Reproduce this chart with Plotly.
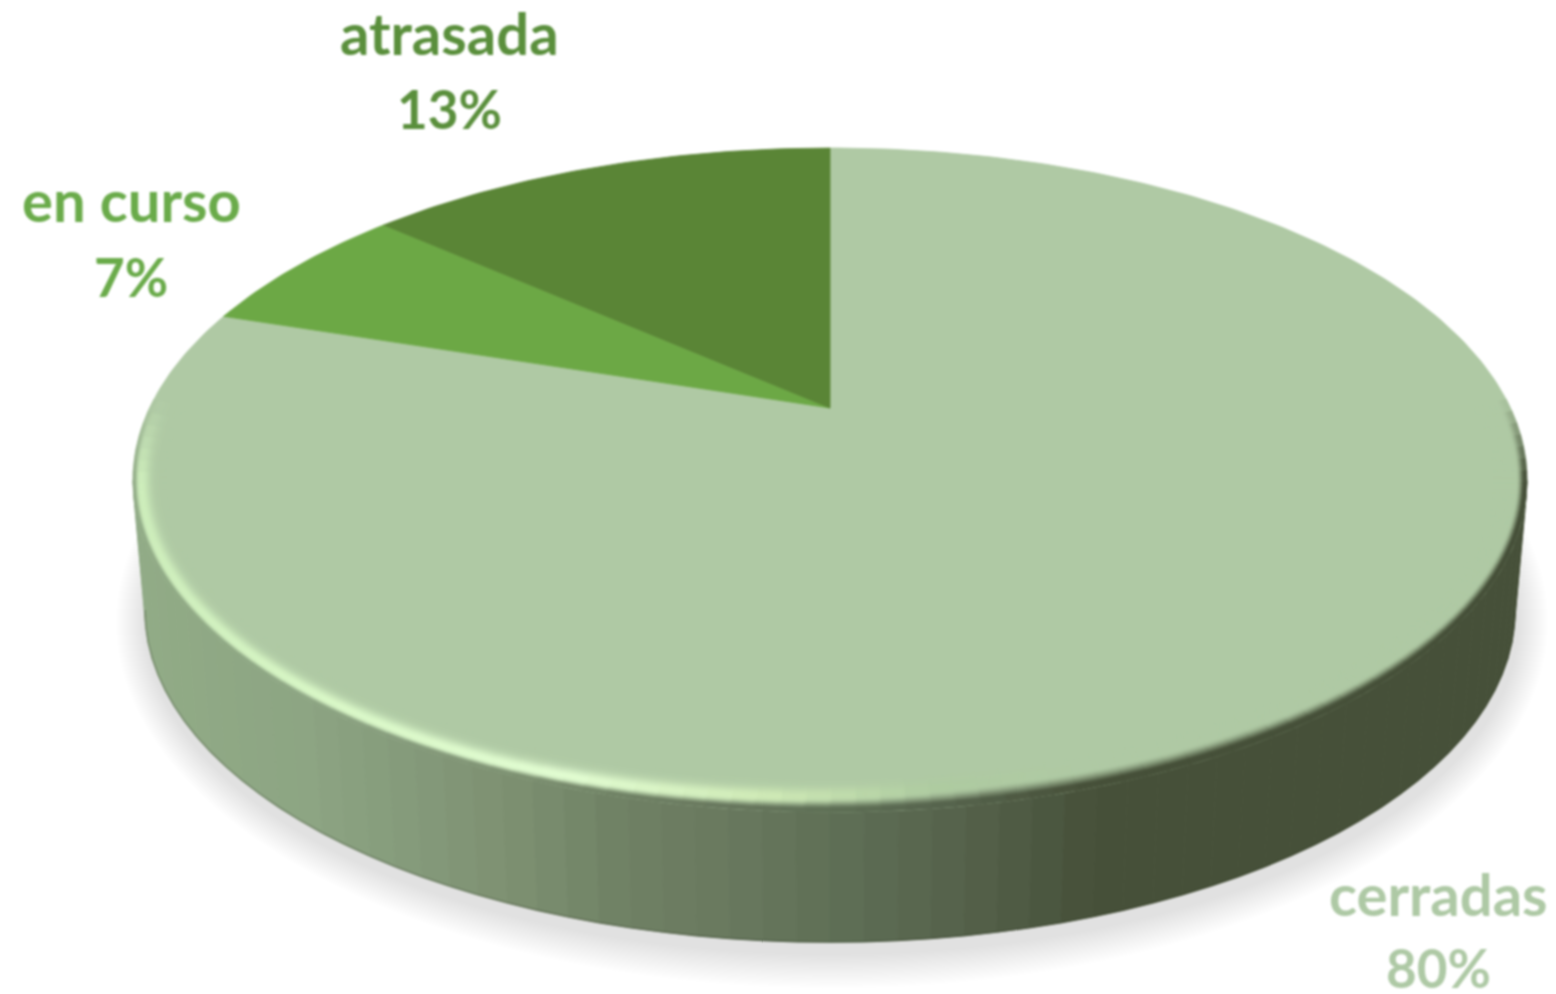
import math
import plotly.graph_objects as go

categories = ["cerradas", "en curso", "atrasada"]
values = [80, 6.5, 13.5]
slice_colors = ["#AFC9A4", "#6CA845", "#5A8536"]
label_colors = ["#AEC9A5", "#6AAB4A", "#5A8F3C"]
percent_labels = ["80%", "7%", "13%"]

W, H = 1556, 994
CX, CY, RX, RY = 830, 480, 697, 332
BCX, BCY, BRX, BRY = 830, 610, 685, 332
TILT = 0.217


def project(angle):
    """Turn a pie angle (clockwise from 12 o'clock) into a tilted-disc pixel position."""
    u, v = math.sin(angle), math.cos(angle)
    d = 1 + TILT * v
    return CX + RX * u * math.sqrt(1 - TILT ** 2) / d, CY - RY * (v + TILT) / d


def hex_rgb(c):
    return tuple(int(c[i:i + 2], 16) for i in (1, 3, 5))


def mix(a, b, t):
    t = max(0.0, min(1.0, t))
    return tuple(a[i] + (b[i] - a[i]) * t for i in range(3))


def css(c):
    return "rgb(%d,%d,%d)" % tuple(round(x) for x in c)


def ramp_num(stops, x):
    if x <= stops[0][0]:
        return stops[0][1]
    for (x0, c0), (x1, c1) in zip(stops, stops[1:]):
        if x <= x1:
            return c0 + (c1 - c0) * (x - x0) / (x1 - x0)
    return stops[-1][1]


def ramp(stops, x):
    if x <= stops[0][0]:
        return hex_rgb(stops[0][1])
    for (x0, c0), (x1, c1) in zip(stops, stops[1:]):
        if x <= x1:
            return mix(hex_rgb(c0), hex_rgb(c1), (x - x0) / (x1 - x0))
    return hex_rgb(stops[-1][1])


fig = go.Figure()


def poly(xs, ys, color):
    fig.add_trace(go.Scatter(x=xs, y=ys, mode="lines", fill="toself", fillcolor=color,
                             line=dict(color=color, width=0.8), hoverinfo="skip", showlegend=False))


def ellipse_pts(cx, cy, rx, ry, a0=0.0, a1=2 * math.pi, n=240):
    ts = [a0 + (a1 - a0) * i / n for i in range(n + 1)]
    return [cx + rx * math.cos(t) for t in ts], [cy + ry * math.sin(t) for t in ts]


# soft shadow under the disc
for k in range(14, -1, -1):
    xs, ys = ellipse_pts(BCX + 2, BCY + 12, BRX + 2 * k + 2, BRY + 2.3 * k + 1)
    poly(xs, ys, "rgba(60,60,60,0.012)")

# side wall, in vertical bands whose colour follows x
wall_stops = [(140, "#91AB86"), (300, "#8DA583"), (420, "#84997A"), (520, "#7C8F70"),
              (620, "#6F8164"), (720, "#69795F"), (830, "#5F7056"), (950, "#56634C"),
              (1100, "#465039"), (1530, "#465039")]
bands = 64
for i in range(bands):
    t0 = math.pi * (1 - i / bands)
    t1 = math.pi * (1 - (i + 1) / bands)
    sub = [t0 + (t1 - t0) * j / 3 for j in range(4)]
    top_x = [CX + RX * math.cos(t) for t in sub]
    top_y = [CY + RY * math.sin(t) for t in sub]
    bot_x = [BCX + BRX * math.cos(t) for t in sub]
    bot_y = [BCY + BRY * math.sin(t) for t in sub]
    color = css(ramp(wall_stops, (top_x[0] + top_x[-1]) / 2))
    poly(top_x + bot_x[::-1] + top_x[:1], top_y + bot_y[::-1] + top_y[:1], color)

# slightly darker lip along the lower edge
for i in range(bands):
    t0 = math.pi * (1 - i / bands)
    t1 = math.pi * (1 - (i + 1) / bands)
    xm = BCX + BRX * math.cos((t0 + t1) / 2)
    c = mix(ramp(wall_stops, xm), (55, 65, 45), 0.3)
    xs, ys = ellipse_pts(BCX, BCY, BRX, BRY, t1, t0, 4)
    fig.add_trace(go.Scatter(x=xs, y=ys, mode="lines", line=dict(color=css(c), width=1.6),
                             hoverinfo="skip", showlegend=False))

# top face: one wedge per category, angles taken from the values
total = sum(values)
cum = 0.0
apex = (CX, CY - RY * TILT)
for cat, val, col in zip(categories, values, slice_colors):
    a0 = 2 * math.pi * cum / total
    a1 = 2 * math.pi * (cum + val) / total
    n = max(8, int(val * 4))
    pts = [project(a0 + (a1 - a0) * i / n) for i in range(n + 1)]
    xs = [apex[0]] + [p[0] for p in pts] + [apex[0]]
    ys = [apex[1]] + [p[1] for p in pts] + [apex[1]]
    fig.add_trace(go.Scatter(x=xs, y=ys, mode="lines", fill="toself", fillcolor=col,
                             line=dict(color=col, width=0.8), name=cat, hoverinfo="skip",
                             showlegend=False))
    cum += val

# bevel around the front of the top face
base = hex_rgb(slice_colors[0])
light_stops = [(133, "#CDEDBB"), (300, "#D8F7C6"), (560, "#E2FDD2"), (760, "#CFEAB6"), (930, "#AECBA0"),
               (1100, "#AFC9A4"), (1530, "#AFC9A4")]
dark_width = [(133, 5), (500, 7), (800, 12), (1000, 18), (1250, 17), (1530, 10)]
segs = 100
depths = list(range(33, 0, -2))
for d in depths:
    for i in range(segs):
        t0 = math.radians(-14 + 208 * i / segs)
        t1 = math.radians(-14 + 208 * (i + 1) / segs)
        tm = (t0 + t1) / 2
        env = min(1.0, max(0.0, (math.sin(tm) + 0.24) / 0.24))
        xm = CX + RX * math.cos(tm)
        dw = ramp_num(dark_width, xm)
        s = max(0.0, 1 - d / dw)
        s = s * s * (3 - 2 * s)
        h = math.exp(-((d - dw - 3) / 8.5) ** 2)
        col = mix(base, ramp(light_stops, xm), h)
        dark = ramp(wall_stops, xm)
        col = mix(col, dark, min(1.0, s * 1.25))
        c = mix(base, col, env)
        xs, ys = ellipse_pts(CX, CY, RX - d, RY - d, t0 - 0.002, t1 + 0.002, 3)
        fig.add_trace(go.Scatter(x=xs, y=ys, mode="lines", line=dict(color=css(c), width=2.8),
                                 hoverinfo="skip", showlegend=False))

# labels: name above percentage
label_pos = {"cerradas": (1438, 893, 967), "en curso": (131, 199, 276), "atrasada": (449, 32, 108)}
for cat, pct, col in zip(categories, percent_labels, label_colors):
    x, y1, y2 = label_pos[cat]
    for txt, y, size in ((cat, y1, 58), (pct, y2, 53)):
        fig.add_annotation(x=x, y=y, text="<b>%s</b>" % txt, showarrow=False, xanchor="center",
                           yanchor="middle", font=dict(family="Lato", size=size, color=col))

fig.update_layout(width=W, height=H, margin=dict(l=0, r=0, t=0, b=0), paper_bgcolor="white",
                  plot_bgcolor="white", showlegend=False,
                  xaxis=dict(range=[0, W], visible=False, fixedrange=True),
                  yaxis=dict(range=[H, 0], visible=False, fixedrange=True))
fig.write_html("out.html", config=dict(displayModeBar=False),
               post_script="document.body.style.margin='0';document.body.style.overflow='hidden';"
                           "document.querySelectorAll('.main-svg').forEach(function(s){s.style.filter='blur(0.9px)';});")
